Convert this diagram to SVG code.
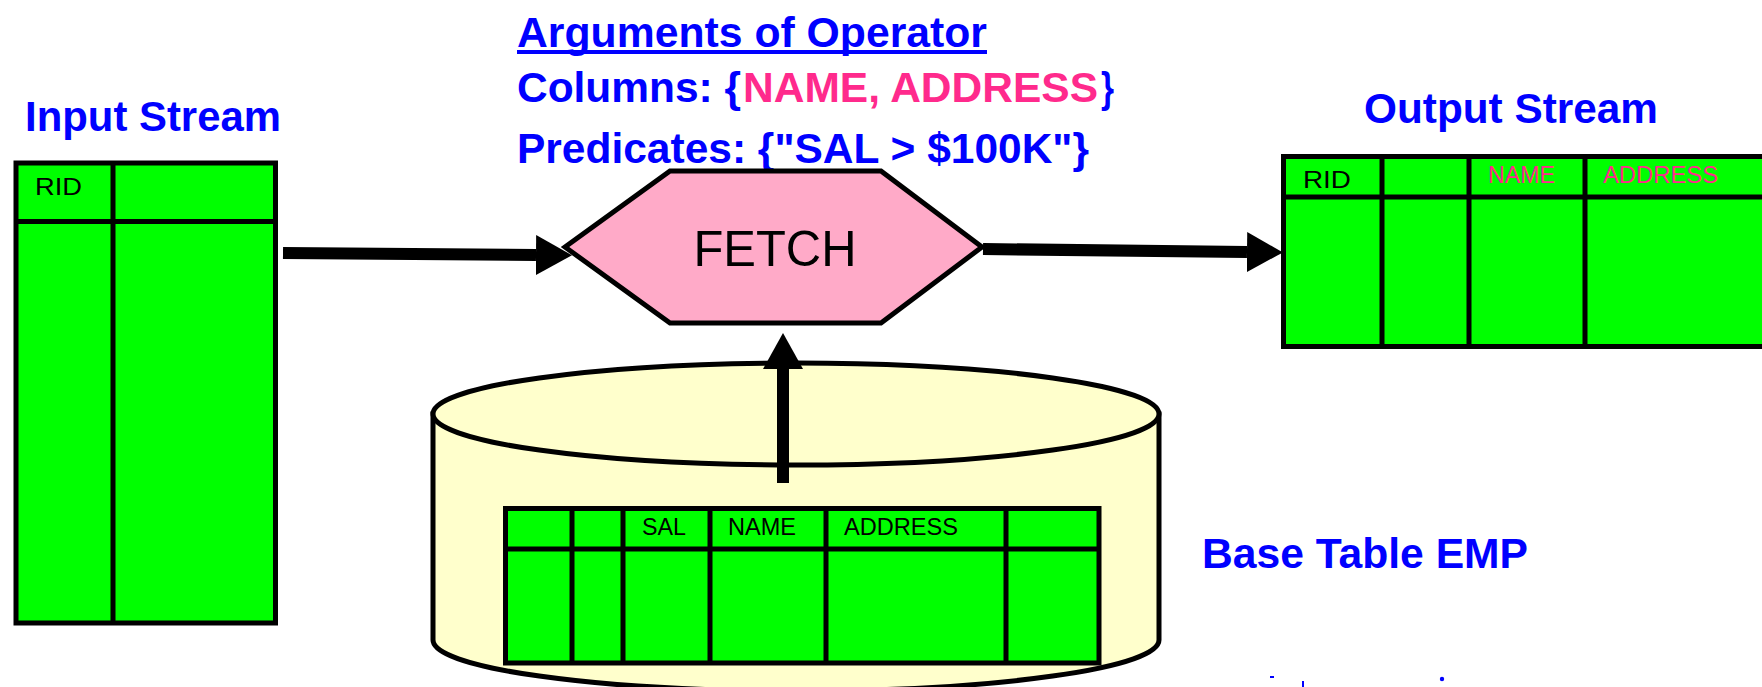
<svg xmlns="http://www.w3.org/2000/svg" width="1762" height="687" viewBox="0 0 1762 687">
  <style>
    .label { font-family: "Liberation Sans", Arial, sans-serif; font-weight: bold; font-size: 43px; fill: #0000FF; }
    .pink { fill: #FF2A8C; }
    .cell { fill: #00FF00; stroke: #000; stroke-width: 5; }
    .grid { stroke: #000; stroke-width: 5; fill: none; }
    .hdr { font-family: "Liberation Sans", Arial, sans-serif; font-size: 24px; fill: #000; }
    .hdr-pink { font-family: "Liberation Sans", Arial, sans-serif; font-size: 24px; fill: #FF2A8C; }
    .conn { stroke: #000; stroke-width: 12; fill: none; }
  </style>
  <defs>
    <marker id="head" markerUnits="userSpaceOnUse" markerWidth="36" markerHeight="40" refX="0" refY="20" orient="auto">
      <path d="M0,0 L36,20 L0,40 z" fill="#000"/>
    </marker>
  </defs>

  <rect width="1762" height="687" fill="#fff"/>

  <!-- labels -->
  <g id="labels">
    <text class="label" x="517" y="47" textLength="470" lengthAdjust="spacingAndGlyphs">Arguments of Operator</text>
    <rect x="517" y="50" width="470" height="4" fill="#0000FF"/>
    <text class="label" x="517" y="102" textLength="224" lengthAdjust="spacingAndGlyphs">Columns: {</text>
    <text class="label pink" x="743" y="102" textLength="355" lengthAdjust="spacingAndGlyphs">NAME, ADDRESS</text>
    <text class="label" x="1101" y="102" textLength="13" lengthAdjust="spacingAndGlyphs">}</text>
    <text class="label" x="517" y="163" textLength="572" lengthAdjust="spacingAndGlyphs">Predicates: {"SAL &gt; $100K"}</text>
    <text class="label" x="25" y="131" textLength="256" lengthAdjust="spacingAndGlyphs">Input Stream</text>
    <text class="label" x="1364" y="123" textLength="294" lengthAdjust="spacingAndGlyphs">Output Stream</text>
    <text class="label" x="1202" y="568" textLength="326" lengthAdjust="spacingAndGlyphs">Base Table EMP</text>
    <!-- clipped fragments along the bottom edge -->
    <rect x="1270" y="676" width="4" height="2" fill="#0000FF"/>
    <rect x="1302" y="681" width="2" height="6" fill="#0000FF"/>
    <circle cx="1442" cy="679" r="2.2" fill="#0000FF"/>
  </g>

  <!-- base table cylinder -->
  <g id="base-table-emp">
    <path d="M433,414 L433,640 A363,51 0 0 0 1159,640 L1159,414 Z" fill="#FFFFCC" stroke="#000" stroke-width="5"/>
    <ellipse cx="796" cy="414" rx="363" ry="51" fill="#FFFFCC" stroke="#000" stroke-width="5"/>
    <rect class="cell" x="505.5" y="508.5" width="593.5" height="154.5"/>
    <path class="grid" d="M505.5,549 H1099 M572,508.5 V663 M623,508.5 V663 M710,508.5 V663 M826,508.5 V663 M1006,508.5 V663"/>
    <text class="hdr" x="642" y="535" textLength="44" lengthAdjust="spacingAndGlyphs">SAL</text>
    <text class="hdr" x="728" y="535" textLength="68" lengthAdjust="spacingAndGlyphs">NAME</text>
    <text class="hdr" x="844" y="535" textLength="114" lengthAdjust="spacingAndGlyphs">ADDRESS</text>
  </g>

  <!-- connectors -->
  <g id="connectors">
    <line class="conn" x1="283" y1="253" x2="536" y2="255" marker-end="url(#head)"/>
    <line class="conn" x1="983" y1="249" x2="1247" y2="252" marker-end="url(#head)"/>
    <line class="conn" x1="783" y1="483" x2="783" y2="369" marker-end="url(#head)"/>
  </g>

  <!-- FETCH operator -->
  <g id="fetch">
    <polygon points="565,247 670,171 881,171 982,247 881,323 670,323" fill="#FFAAC8" stroke="#000" stroke-width="5" stroke-linejoin="miter"/>
    <text x="775" y="266" text-anchor="middle" font-family="'Liberation Sans', Arial, sans-serif" font-size="50" textLength="163" lengthAdjust="spacingAndGlyphs" fill="#000">FETCH</text>
  </g>

  <!-- input stream table -->
  <g id="input-stream">
    <rect class="cell" x="16" y="163" width="259.5" height="460"/>
    <path class="grid" d="M16,221.5 H275.5 M113,163 V623"/>
    <text class="hdr" x="35" y="195" font-size="28" textLength="47" lengthAdjust="spacingAndGlyphs">RID</text>
  </g>

  <!-- output stream table -->
  <g id="output-stream">
    <rect class="cell" x="1283.5" y="156.5" width="520" height="190"/>
    <path class="grid" d="M1283.5,197 H1803.5 M1382,156.5 V346.5 M1469,156.5 V346.5 M1585,156.5 V346.5"/>
    <text class="hdr" x="1303" y="188" font-size="27" textLength="48" lengthAdjust="spacingAndGlyphs">RID</text>
    <text class="hdr-pink" x="1488" y="183" textLength="67" lengthAdjust="spacingAndGlyphs">NAME</text>
    <text class="hdr-pink" x="1603" y="183" textLength="115" lengthAdjust="spacingAndGlyphs">ADDRESS</text>
  </g>
</svg>
